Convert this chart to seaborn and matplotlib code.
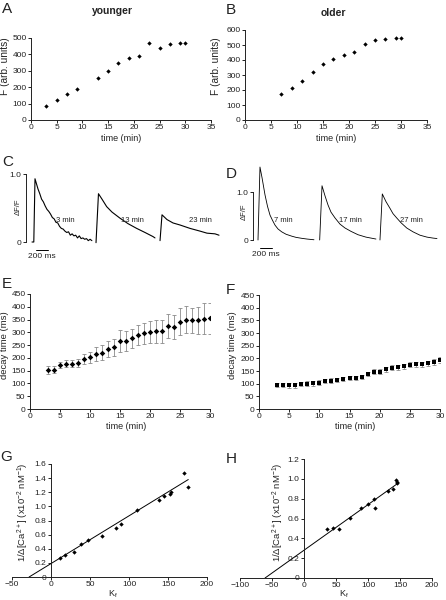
import numpy as np
import pandas as pd
import matplotlib
matplotlib.use('Agg')
import matplotlib.pyplot as plt
import seaborn as sns
from matplotlib.ticker import FuncFormatter

# ---- data ----
# A / B: fluorescence vs time
younger_t = [3, 5, 7, 9, 13, 15, 17, 19, 21, 23, 25, 27, 29, 30]
younger_f = [88, 125, 160, 192, 257, 300, 350, 376, 393, 472, 439, 462, 472, 472]
older_t = [7, 9, 11, 13, 15, 17, 19, 21, 23, 25, 27, 29, 30]
older_f = [171, 216, 258, 318, 371, 409, 436, 456, 507, 531, 538, 547, 547]

# C: younger transients (time in ms, dF/F)
c1_t = [0, 30, 50, 70, 100, 130, 160, 190, 220, 250, 280, 310, 340, 370, 400, 430, 460,
        490, 520, 550, 580, 610, 640, 670, 700, 730, 760, 790, 820, 850, 880, 910, 940, 970, 1000]
c1_v = [0.0, 0.0, 0.93, 0.87, 0.78, 0.71, 0.63, 0.59, 0.53, 0.48, 0.45, 0.41, 0.36, 0.34, 0.29,
        0.28, 0.23, 0.20, 0.19, 0.16, 0.14, 0.15, 0.10, 0.12, 0.09, 0.10, 0.06, 0.09, 0.05, 0.06,
        0.04, 0.05, 0.02, 0.04, 0.02]
c2_t = [1069, 1110, 1169, 1247, 1336, 1470, 1603, 1748, 1887, 2020, 2054]
c2_v = [-0.01, 0.71, 0.63, 0.52, 0.44, 0.35, 0.27, 0.20, 0.14, 0.08, 0.06]
c3_t = [2138, 2171, 2254, 2355, 2472, 2639, 2806, 2922, 3056, 3123]
c3_v = [0.02, 0.40, 0.33, 0.28, 0.25, 0.20, 0.16, 0.13, 0.12, 0.10]
c_labels = ['3 min', '13 min', '23 min']
c_label_t = [551, 1670, 2806]

# D: older transients
d1_t = [0, 33, 67, 117, 159, 200, 242, 284, 334, 396, 468, 563, 635, 730, 818, 935]
d1_v = [0.0, 1.52, 1.30, 0.94, 0.70, 0.52, 0.41, 0.31, 0.23, 0.17, 0.12, 0.08, 0.055, 0.035, 0.02, 0.005]
d2_t = [1030, 1069, 1119, 1169, 1219, 1286, 1370, 1453, 1553, 1670, 1803, 1970]
d2_v = [0.0, 1.13, 0.92, 0.73, 0.58, 0.46, 0.33, 0.25, 0.18, 0.11, 0.06, 0.02]
d3_t = [2037, 2076, 2137, 2204, 2254, 2316, 2388, 2484, 2589, 2705, 2822, 2922, 2989]
d3_v = [0.0, 0.96, 0.80, 0.66, 0.55, 0.46, 0.36, 0.25, 0.17, 0.10, 0.06, 0.04, 0.03]
d_labels = ['7 min', '17 min', '27 min']
d_label_t = [418, 1536, 2555]

# E / F: decay time vs time
time_min = [3, 4, 5, 6, 7, 8, 9, 10, 11, 12, 13, 14, 15, 16, 17, 18, 19, 20, 21, 22,
            23, 24, 25, 26, 27, 28, 29, 30]
decay_young = [153, 153, 172, 178, 178, 179, 196, 203, 216, 221, 235, 241, 267, 267, 277, 289,
               296, 302, 304, 304, 325, 321, 342, 350, 347, 347, 354, 355]
err_young = [15, 14, 13, 13, 15, 15, 18, 22, 28, 30, 30, 32, 43, 40, 38, 40, 42, 42, 45, 45,
             48, 47, 52, 54, 50, 52, 60, 60]
decay_old = [94, 94, 93, 93, 98, 100, 101, 104, 110, 112, 115, 119, 122, 123, 127, 139, 148, 147,
             156, 163, 164, 169, 175, 176, 177, 181, 186, 192]
err_old = [9, 9, 9, 9, 9, 9, 9, 9, 9, 9, 8, 8, 8, 9, 9, 9, 9, 9, 9, 10, 10, 10, 10, 10, 10, 10, 11, 12]

# G / H: 1/d[Ca] vs kappa
kr_young = [11, 18, 29, 39, 48, 66, 83, 90, 110, 138, 145, 152, 154, 171, 176]
inv_ca_young = [0.275, 0.31, 0.355, 0.465, 0.52, 0.58, 0.69, 0.755, 0.95, 1.085, 1.14, 1.175,
                1.21, 1.475, 1.28]
fit_young = (0.00676, 0.19)   # slope, intercept
kr_old = [36, 45, 54, 72, 89, 100, 110, 111, 132, 139, 144, 145, 146]
inv_ca_old = [0.49, 0.50, 0.49, 0.607, 0.705, 0.745, 0.795, 0.71, 0.88, 0.90, 0.99, 0.965, 0.96]
fit_old = (0.0046, 0.28)

W, H = 446, 600

sns.set_style('ticks')
plt.rcParams['font.family'] = ['Liberation Sans', 'DejaVu Sans']
plt.rcParams.update({
    'mathtext.default': 'regular',
    'axes.linewidth': 0.7, 'axes.edgecolor': '#222',
    'xtick.major.width': 0.7, 'ytick.major.width': 0.7,
    'xtick.major.size': 2, 'ytick.major.size': 2,
    'xtick.labelsize': 6, 'ytick.labelsize': 6,
    'xtick.major.pad': 1.2, 'ytick.major.pad': 1.2,
    'xtick.color': '#222', 'ytick.color': '#222',
    'text.color': '#222', 'axes.labelcolor': '#222',
    'axes.labelsize': 6.5,
})

fig = plt.figure(figsize=(W / 100, H / 100), dpi=100)


def px_axes(x0, y0, x1, y1):
    return fig.add_axes([x0 / W, 1 - y1 / H, (x1 - x0) / W, (y1 - y0) / H])


def set_label_px(axis, px, py):
    axis.set_label_coords(px / W, 1 - py / H, transform=fig.transFigure)


def clean(ax):
    ax.spines['top'].set_visible(False)
    ax.spines['right'].set_visible(False)


# ---- A / B ----
for box, t, f, ymax, ylab_x in [((31, 38, 211, 120), younger_t, younger_f, 500, 10),
                                 ((245, 30, 427, 120), older_t, older_f, 600, 221)]:
    ax = px_axes(*box)
    sns.scatterplot(x=t, y=f, marker='D', s=5, color='k', linewidth=0, ax=ax)
    ax.set_xlim(0, 35)
    ax.set_ylim(0, ymax)
    ax.set_xticks(range(0, 36, 5))
    ax.set_yticks(range(0, ymax + 1, 100))
    ax.set_xlabel('time (min)')
    ax.set_ylabel('F (arb. units)', fontsize=7.3)
    set_label_px(ax.xaxis, (box[0] + box[2]) / 2, 134)
    set_label_px(ax.yaxis, ylab_x, 66)
    clean(ax)

fig.text(112 / W, 1 - 11 / H, 'younger', fontsize=7.5, fontweight='bold', ha='center', va='center')
fig.text(333 / W, 1 - 13 / H, 'older', fontsize=7.5, fontweight='bold', ha='center', va='center')

# ---- C / D transients ----
scale_ms = 200
ms_per_px = 16.7
panels = [
    dict(box=(26, 160, 226, 250), zero=242, unit=68, t0=32, bar_px=36,
         traces=[(c1_t, c1_v), (c2_t, c2_v), (c3_t, c3_v)],
         labels=c_labels, label_t=c_label_t, lw=0.8, ylab=(22, 207)),
    dict(box=(253, 160, 446, 250), zero=240, unit=48, t0=258, bar_px=260,
         traces=[(d1_t, d1_v), (d2_t, d2_v), (d3_t, d3_v)],
         labels=d_labels, label_t=d_label_t, lw=0.6, ylab=(248, 212)),
]
for p in panels:
    x0, y0, x1, y1 = p['box']
    ax = px_axes(x0, y0, x1, y1)
    for t, v in p['traces']:
        sns.lineplot(x=t, y=v, color='k', linewidth=p['lw'], estimator=None, sort=False, ax=ax)
    ax.set_xlim((x0 - p['t0']) * ms_per_px, (x1 - p['t0']) * ms_per_px)
    ax.set_ylim((p['zero'] - y1) / p['unit'], (p['zero'] - y0) / p['unit'])
    lab_y = (p['zero'] - 220) / p['unit']
    for txt, tt in zip(p['labels'], p['label_t']):
        ax.text(tt, lab_y, txt, fontsize=5.5, ha='center', va='center')
    # scale bar
    bar_y = -8 / p['unit']
    bar_x = (p['bar_px'] - p['t0']) * ms_per_px
    ax.plot([bar_x, bar_x + scale_ms], [bar_y, bar_y], color='k', lw=0.7, clip_on=False)
    ax.text(bar_x + scale_ms / 2, -14 / p['unit'], '200 ms', fontsize=6, ha='center', va='center')
    ax.spines['top'].set_visible(False)
    ax.spines['right'].set_visible(False)
    ax.spines['bottom'].set_visible(False)
    ax.spines['left'].set_bounds(0, 1)
    ax.set_xticks([])
    ax.set_yticks([0, 1])
    ax.set_yticklabels(['0', '1.0'])
    ax.set_ylabel('ΔF/F', fontsize=5.5)
    set_label_px(ax.yaxis, *p['ylab'])

# ---- E / F decay time ----
for box, d, e, marker, size, ylab_x in [((30, 294, 210, 409), decay_young, err_young, 'D', 8, 9.5),
                                         ((259, 295, 440, 409), decay_old, err_old, 's', 9, 237)]:
    ax = px_axes(*box)
    ax.errorbar(time_min, d, yerr=e, fmt='none', ecolor='#8a8a8a', elinewidth=0.6,
                capsize=1.3, capthick=0.6)
    sns.scatterplot(x=time_min, y=d, marker=marker, s=size, color='k', linewidth=0, ax=ax, zorder=3)
    ax.set_xlim(0, 30)
    ax.set_ylim(0, 450)
    ax.set_xticks(range(0, 31, 5))
    ax.set_yticks(range(0, 451, 50))
    ax.set_xlabel('time (min)')
    ax.set_ylabel('decay time (ms)', fontsize=6.8)
    set_label_px(ax.xaxis, (box[0] + box[2]) / 2 + 6, 422)
    set_label_px(ax.yaxis, ylab_x, 345)
    clean(ax)

# ---- G / H binding ratio ----
ylab_ca = '1/Δ[Ca$^{2+}$] (x10$^{-2}$ nM$^{-1}$)'
fmt = FuncFormatter(lambda v, pos: '0' if abs(v) < 1e-9 else f'{v:.1f}')
for box, k, c, fit, xr, ymax, ylab_x, xlab_x in [
        ((12, 464, 207, 577), kr_young, inv_ca_young, fit_young, (-50, 200), 1.6, 31, 113),
        ((240, 459, 432, 578), kr_old, inv_ca_old, fit_old, (-100, 200), 1.2, 286, 344)]:
    ax = px_axes(*box)
    sns.scatterplot(x=k, y=c, marker='D', s=5, color='k', linewidth=0, ax=ax)
    m, b = fit
    line_x = [-b / m, max(k)]
    sns.lineplot(x=line_x, y=[m * xx + b for xx in line_x], color='k', linewidth=0.7, ax=ax)
    ax.set_xlim(*xr)
    ax.set_ylim(0, ymax)
    ax.set_xticks(range(xr[0], xr[1] + 1, 50))
    ax.set_yticks(np.round(np.arange(0, ymax + 0.01, 0.2), 1))
    ax.yaxis.set_major_formatter(fmt)
    ax.spines['left'].set_position(('data', 0))
    ax.spines['bottom'].set_position(('data', 0))
    ax.set_xlabel('K$_f$')
    ax.set_ylabel(ylab_ca, fontsize=6.8)
    set_label_px(ax.xaxis, xlab_x, 589)
    set_label_px(ax.yaxis, ylab_x, 512)
    clean(ax)

# panel letters
for letter, x, y in [('A', 2, 2), ('B', 226, 3), ('C', 2, 155), ('D', 226, 167),
                     ('E', 2, 277), ('F', 226, 283), ('G', 0, 450), ('H', 226, 452)]:
    fig.text(x / W, 1 - y / H, letter, fontsize=11, ha='left', va='top')

fig.savefig('out.png', dpi=100)
